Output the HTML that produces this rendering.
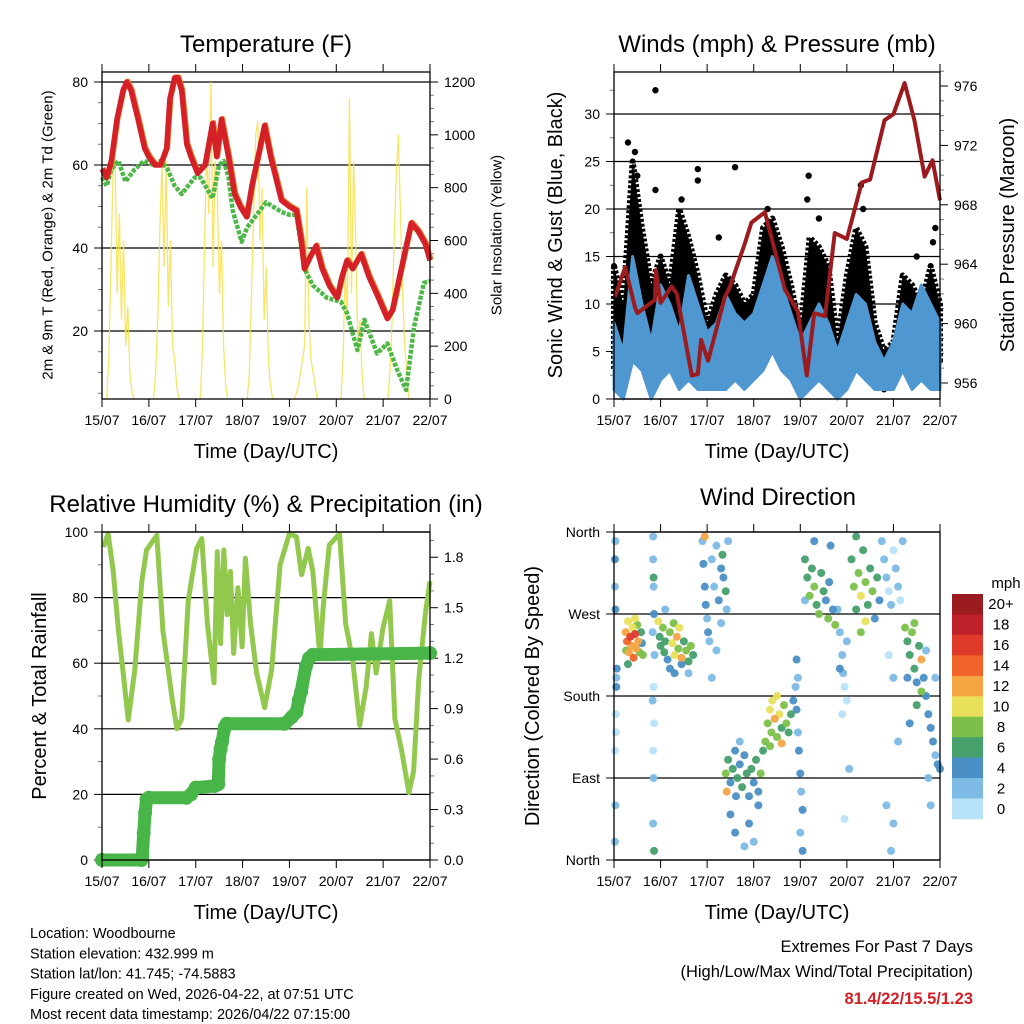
<!DOCTYPE html>
<html><head><meta charset="utf-8"><style>
html,body{margin:0;padding:0;background:#fff}
svg{display:block;font-family:"Liberation Sans",Arial,sans-serif}
</style></head><body>
<svg id="c" width="1024" height="1024" viewBox="0 0 1024 1024" xmlns="http://www.w3.org/2000/svg"></svg>
<script>
// ---------- DATA ----------
const dayLabels=["15/07","16/07","17/07","18/07","19/07","20/07","21/07","22/07"];
// Temperature panel
const tDay=[0,0.1,0.2,0.32,0.45,0.53,0.62,0.77,0.91,1.0,1.13,1.25,1.38,1.45,1.55,1.62,1.7,1.81,1.9,2.04,2.2,2.36,2.45,2.55,2.7,2.83,2.95,3.09,3.2,3.35,3.47,3.6,3.83,4.0,4.15,4.25,4.32,4.45,4.57,4.7,4.85,5.02,5.12,5.23,5.35,5.53,5.7,5.9,6.09,6.2,6.35,6.6,6.75,6.9,7.0];
const tRed=[59,57,61,71,78,80,78,71,64,62,60,60,64,76,81,81,78,65,62,58,60,70,62,71,62,53,50,47.5,55,63,69.5,62,51.5,50,49,42,35,38,40.5,35,31,28,33,37,35,38.5,33,28,23,25,33,46,44,41,37];
const dDay=[0,0.1,0.2,0.35,0.5,0.7,0.9,1.1,1.25,1.4,1.55,1.7,1.98,2.1,2.36,2.5,2.6,2.7,2.79,2.98,3.1,3.3,3.5,3.83,4.0,4.15,4.32,4.5,4.8,5.1,5.23,5.45,5.6,5.87,6.09,6.3,6.49,6.66,6.87,7.0];
const dVal=[57,55,59,61,56,59,61,60,61,59,55,53,57,57,52,60,61,57,49,41.5,45,48,51,48.7,48,48,35,31,28,27,24.3,15.4,22.7,14.6,17,10.6,5.8,21,31.6,32];
const solar0=[0,150,500,850,900,400,700,300,600,200,350,100,30,0];
const solar1=[0,100,300,650,880,500,900,350,600,200,150,50,0,0];
const solar2=[0,200,600,950,700,1200,500,900,800,400,600,200,50,0];
const solar3=[0,100,400,700,1000,1050,600,800,300,500,150,50,0,0];
const solar4=[0,20,50,100,150,200,800,300,150,100,50,0,0,0];
const solar5=[0,150,500,300,1140,400,900,600,200,300,100,0,0,0];
const solar6=[0,100,300,600,850,1000,700,400,200,100,0,0,0,0];
// Winds panel (0.2-day steps)
const windLo=[1,0,4,3,0,2,3,1,2,1,1,1,1,2,1,2,3,5,3,2,0,1,2,1,0,1,3,2,1,1,1,3,1,2,1,1];
const windHi=[8,5,15,10,6,12,10,7,13,10,7,8,11,9,8,9,12,15,12,9,6,8,10,8,5,8,11,10,6,4,6,10,9,12,10,8];
const gustLo=[3,4,12,8,2,5,5,7,6,5,3,5,6,5,4,6,9,10,8,6,2,7,8,6,1,5,9,7,3,1,2,7,6,4,3,4];
const gustHi=[14,10,25,18,12,15,12,20,17,13,8,11,13,12,10,11,18,19,16,12,7,17,16,14,6,13,18,16,8,5,6,13,12,10,14,10];
const gxDay=[0.89,0.89,1.8,1.8,2.6,2.25,4.18,4.15,5.3,6.85,6.9,0.3,6.5,0.45,0.5,1.45,3.3,4.4,5.35];
const gxVal=[32.5,22,24.2,23,24.4,17,23.5,21,22.5,16.5,18,27,15,26,23.5,21,20,19,20];
const pDay=[0.02,0.24,0.45,0.5,0.88,0.9,1.0,1.24,1.35,1.67,1.8,1.87,2.02,2.38,2.48,2.81,2.95,3.24,3.67,3.95,4.14,4.3,4.53,4.74,5.0,5.32,5.5,5.81,6.0,6.24,6.45,6.67,6.84,7.0];
const pVal=[961.8,963.8,961.1,960.7,961.6,963.6,961.4,962.5,962,956.5,956.6,958.9,957.5,961.8,962.4,965.4,966.8,967.5,962.3,960.8,956.5,960.7,960.5,966.1,965.7,969.5,969.7,973.7,974.1,976.2,973.7,969.9,971,968.3];
// RH & precip panel
const rhDay=[0.03,0.13,0.24,0.35,0.46,0.56,0.7,0.85,0.95,1.17,1.3,1.5,1.6,1.7,1.84,2.02,2.13,2.25,2.39,2.46,2.53,2.6,2.67,2.74,2.81,2.9,2.99,3.06,3.17,3.3,3.47,3.62,3.8,4.0,4.15,4.26,4.4,4.5,4.65,4.72,4.85,5.07,5.2,5.35,5.5,5.64,5.75,5.85,6.0,6.14,6.25,6.4,6.55,6.65,6.76,6.9,7.0];
const rhVal=[95.4,99.5,88,70,56,42.7,58,85,94.5,99,70,48.8,40,43,79,95,98,72,54,94,66,94.5,74.8,88,63,83,65,92,72,57,46.5,58,90,99.5,98.5,87,95,88,62,77,96,99.5,72,61,41,53,69,57,71,79,43,33,20.5,27,55,75,85];
const prDay=[0,0.84,0.86,0.89,0.92,0.95,1.0,1.8,1.9,2.0,2.4,2.48,2.5,2.53,2.56,2.62,2.66,3.9,4.05,4.15,4.2,4.25,4.35,4.42,4.5,7.0];
const prVal=[0,0,0.02,0.16,0.28,0.36,0.37,0.37,0.39,0.43,0.44,0.45,0.6,0.66,0.7,0.79,0.81,0.81,0.85,0.88,0.95,1.0,1.15,1.2,1.22,1.23];
// Wind direction panel
const dirDay=[0.25,0.28,0.3,0.32,0.35,0.38,0.4,0.42,0.45,0.48,0.5,0.52,0.55,0.58,0.6,0.62,0.3,0.45,0.26,
0.02,0.02,0.03,0.05,0.04,0.02,0.03,0.02,0.05,0.06,0.04,0.03,
0.84,0.84,0.85,0.83,0.85,0.86,0.84,0.85,0.84,0.86,0.85,0.86,0.87,0.83,
0.95,0.98,1.0,1.05,1.08,1.1,1.15,1.2,1.25,1.28,1.3,1.35,1.38,1.4,1.45,1.5,1.55,1.6,1.65,1.7,1.2,1.3,1.45,1.6,1.1,
1.9,1.92,1.95,1.97,2.0,2.02,2.05,2.1,2.15,2.2,2.25,2.3,2.33,2.35,2.4,2.42,2.45,1.95,2.3,2.2,2.1,
2.4,2.42,2.45,2.5,2.55,2.6,2.62,2.65,2.7,2.75,2.8,2.85,2.9,2.95,3.0,3.05,3.1,3.15,3.2,2.5,2.6,2.9,3.0,2.8,2.7,3.1,
3.25,3.3,3.35,3.38,3.4,3.45,3.5,3.55,3.6,3.65,3.7,3.75,3.8,3.85,3.35,3.5,3.6,
3.9,3.92,3.95,3.97,4.0,4.02,4.05,3.95,4.0,4.05,3.92,
4.1,4.15,4.2,4.25,4.3,4.35,4.4,4.45,4.5,4.55,4.6,4.62,4.65,4.7,4.75,4.1,4.3,
4.8,4.85,4.9,4.92,4.95,5.0,4.85,4.9,5.0,5.05,4.95,
5.1,5.15,5.2,5.25,5.3,5.35,5.4,5.45,5.5,5.55,5.6,5.65,5.7,5.4,5.2,5.3,
5.75,5.8,5.85,5.9,5.95,6.0,6.05,6.1,6.15,6.2,5.9,6.0,6.1,5.85,6.0,5.95,
6.25,6.3,6.35,6.4,6.45,6.5,6.55,6.6,6.3,6.45,6.6,6.5,6.35,
6.65,6.7,6.75,6.8,6.85,6.9,6.95,7.0,6.75,6.8,6.9,6.7];
const dirDeg=[250,240,262,228,245,235,255,222,248,232,258,240,228,250,238,225,215,265,230,
330,300,275,200,160,120,60,20,190,210,140,350,
355,330,300,250,190,150,120,90,40,10,310,270,225,175,
262,245,235,255,228,240,220,250,238,260,225,245,232,255,222,240,230,218,235,225,210,205,215,205,275,
350,325,300,280,265,250,240,330,300,345,285,320,335,310,295,275,350,355,260,230,200,
95,75,110,85,100,120,70,90,105,80,115,95,70,100,85,110,75,95,120,50,30,40,20,15,130,60,
130,150,165,140,175,155,135,160,145,170,150,140,160,175,125,180,128,
190,165,140,120,95,75,55,200,30,10,220,
330,310,290,320,300,280,270,315,295,285,265,305,345,275,258,285,350,
275,250,225,205,190,175,210,160,240,100,45,
330,300,275,315,290,340,305,280,320,295,265,310,285,262,355,250,
350,330,310,295,280,340,320,300,285,350,225,200,130,60,40,10,
255,240,225,250,210,195,235,185,200,260,220,170,150,
200,180,160,145,130,115,105,100,90,60,200,230];
const dirSpd=[12,14,11,13,16,12,10,14,17,12,9,13,8,7,5,8,6,11,9,
4,3,4,3,1,1,3,3,4,4,1,2,
2,3,2,3,1,1,1,2,3,6,6,4,2,3,
10,7,6,8,7,6,5,9,11,8,10,12,8,10,13,7,9,6,8,7,4,4,5,3,3,
3,4,5,4,3,4,3,2,3,2,4,5,6,4,6,3,2,12,2,3,2,
8,12,6,4,7,4,5,6,5,6,4,6,5,7,4,6,4,8,7,4,4,4,3,2,3,4,
8,9,10,8,11,12,9,10,7,8,9,6,7,4,9,11,13,
3,4,3,5,4,3,4,2,2,4,4,
6,7,8,6,9,7,8,6,7,5,8,4,5,4,8,3,4,
2,2,3,2,1,1,4,1,2,2,1,
6,8,6,9,10,7,8,6,7,9,5,6,4,10,6,8,
2,3,2,1,2,1,3,2,1,2,1,2,3,2,3,3,
8,7,6,9,7,5,6,8,4,8,12,6,4,
4,5,4,5,4,3,5,4,3,3,3,2];
const spdLabels=["20+","18","16","14","12","10","8","6","4","2","0"];
const spdColors=["#9b1b1e","#c0202a","#e03a2a","#f0632a","#f5a442","#e8e05a","#7cc04a","#45a06c","#4a8fc6","#7dbbe6","#b8e2f8"];

// ---------- HELPERS ----------
const svg=document.getElementById('c');
const NS='http://www.w3.org/2000/svg';
function mk(tag,attrs,parent){const e=document.createElementNS(NS,tag);for(const k in attrs)e.setAttribute(k,attrs[k]);(parent||svg).appendChild(e);return e;}
function txt(s,x,y,size,anchor,parent,extra){const e=mk('text',Object.assign({x:x,y:y,'font-size':size,'text-anchor':anchor||'middle',fill:'#000'},extra||{}),parent);e.textContent=s;return e;}

const P1={x0:102,x1:430,y0:72,y1:399};
const P2={x0:614,x1:940,y0:72,y1:399};
const P3={x0:102,x1:430,y0:532,y1:860};
const P4={x0:614,x1:940,y0:532,y1:860};
function dx(P,d){return P.x0+d*(P.x1-P.x0)/7;}

function frameAndX(P,name){
  const g=mk('g',{});
  
  
  for(let i=0;i<dayLabels.length;i++){
    const x=dx(P,i);
    const t1=mk('line',{x1:x,x2:x,y1:P.y0-8,y2:P.y0,stroke:'#000','stroke-width':1},g);
    
    
    const t2=mk('line',{x1:x,x2:x,y1:P.y1,y2:P.y1+8,stroke:'#000','stroke-width':1},g);
    
    
    const l=txt(dayLabels[i],x,P.y1+26,14,'middle',g);
    
    
  }
  const xt=txt('Time (Day/UTC)',(P.x0+P.x1)/2,P.y1+59,20,'middle',g);
  
  
  return g;
}
function frameRect(P){
  const r=mk('rect',{x:P.x0,y:P.y0,width:P.x1-P.x0,height:P.y1-P.y0,fill:'none',stroke:'#000','stroke-width':1.3});
  
  
}
function yAxis(P,side,vals,labels,toY,minorVals,grid){
  const g=mk('g',{});
  
  
  const xe=side==='left'?P.x0:P.x1, dir=side==='left'?-1:1;
  minorVals.forEach(v=>{const y=toY(v);const m=mk('line',{x1:xe,x2:xe+dir*4,y1:y,y2:y,stroke:'#777','stroke-width':1},g);
    
    });
  vals.forEach((v,i)=>{const y=toY(v);
    const t=mk('line',{x1:xe,x2:xe+dir*8,y1:y,y2:y,stroke:'#000','stroke-width':1},g);
    
    
    if(grid){const gl=mk('line',{x1:P.x0,x2:P.x1,y1:y,y2:y,stroke:'#000','stroke-width':1.2},g);
      
      }
    const l=txt(labels[i],xe+dir*14,y+5,14,side==='left'?'end':'start',g);
    
    
  });
}
function vtitle(s,x,yc,size,name){
  const t=txt(s,x,yc,size,'middle',svg,{transform:'rotate(-90 '+x+' '+yc+')','dominant-baseline':'central'});
  
  
}
function ptitle(s,x,y,name){const t=txt(s,x,y,24,'middle');
  
  }
function pts(xs,ys){return xs.map((d,i)=>xs[i]+','+ys[i]).join(' ');}

// ---------- PANEL 1: Temperature ----------
const yT=v=>82+(80-v)*(331-82)/60;
const ySol=v=>399-v*(399-82)/1200;
ptitle('Temperature (F)',266,52,'temperature-title');
yAxis(P1,'left',[20,40,60,80],['20','40','60','80'],yT,[5,10,15,25,30,35,45,50,55,65,70,75],true);
yAxis(P1,'right',[0,200,400,600,800,1000,1200],['0','200','400','600','800','1000','1200'],ySol,[50,100,150,250,300,350,450,500,550,650,700,750,850,900,950,1050,1100,1150],false);
{
  const solarAll=[solar0,solar1,solar2,solar3,solar4,solar5,solar6];
  const g=mk('g',{});
  
  
  solarAll.forEach((arr,di)=>{
    const xs=arr.map((v,i)=>dx(P1,di+0.1+i*0.045)), ys=arr.map(v=>ySol(v));
    const pl=mk('polyline',{points:pts(xs,ys),fill:'none',stroke:'#f9df4a','stroke-width':1.3,'stroke-opacity':0.85},g);
    
    
  });
  const dew=mk('polyline',{points:pts(dDay.map(d=>dx(P1,d)),dVal.map(yT)),fill:'none',stroke:'#4db848','stroke-width':4.5,'stroke-dasharray':'4 1.5','stroke-linejoin':'round'});
  
  
  const or=mk('polyline',{points:pts(tDay.map(d=>dx(P1,d)+1),tRed.map(v=>yT(v)-1)),fill:'none',stroke:'#f07a2a','stroke-width':5,'stroke-linejoin':'round'});
  
  
  const red=mk('polyline',{points:pts(tDay.map(d=>dx(P1,d)),tRed.map(yT)),fill:'none',stroke:'#d42027','stroke-width':5.5,'stroke-linejoin':'round'});
  
  
}
frameRect(P1);
frameAndX(P1,'temperature');
vtitle('2m & 9m T (Red, Orange) & 2m Td (Green)',48,235,15,'temperature-y-title');
vtitle('Solar Insolation (Yellow)',497,235,15,'solar-y-title');

// ---------- PANEL 2: Winds ----------
const yW=v=>399-v*9.5;
const yP=p=>383-(p-956)*14.85;
ptitle('Winds (mph) & Pressure (mb)',777,52,'winds-title');
yAxis(P2,'left',[0,5,10,15,20,25,30],['0','5','10','15','20','25','30'],yW,[2.5,7.5,12.5,17.5,22.5,27.5,32.5],true);
yAxis(P2,'right',[956,960,964,968,972,976],['956','960','964','968','972','976'],yP,[957,958,959,961,962,963,965,966,967,969,970,971,973,974,975,977],false);
{
  const g=mk('g',{});
  
  
  const gx=gustLo.map((v,i)=>dx(P2,i*0.2));
  const gtop=gx.map((x,i)=>x+','+yW(gustHi[i])).join(' ');
  const gbot=gx.map((x,i)=>x+','+yW(gustLo[i])).reverse().join(' ');
  const gb=mk('polygon',{points:gtop+' '+gbot,fill:'#000',stroke:'#000','stroke-width':6,'stroke-linejoin':'round','stroke-dasharray':'3 2'},g);
  
  
  gxDay.forEach((d,i)=>{const c=mk('circle',{cx:dx(P2,d),cy:yW(gxVal[i]),r:3.2,fill:'#000'},g);
    
    });
  const xs=windLo.map((v,i)=>dx(P2,i*0.2));
  const top=xs.map((x,i)=>x+','+yW(windHi[i])).join(' ');
  const bot=xs.map((x,i)=>x+','+yW(windLo[i])).reverse().join(' ');
  const band=mk('polygon',{points:top+' '+bot,fill:'#4f97d1',stroke:'#4f97d1','stroke-width':3,'stroke-linejoin':'round'});
  
  
  const pr=mk('polyline',{points:pts(pDay.map(d=>dx(P2,d)),pVal.map(yP)),fill:'none',stroke:'#9b1b1e','stroke-width':4,'stroke-linejoin':'round'});
  
  
}
frameRect(P2);
frameAndX(P2,'winds');
vtitle('Sonic Wind & Gust (Blue, Black)',556,235,20,'wind-y-title');
vtitle('Station Pressure (Maroon)',1008,235,20,'pressure-y-title');

// ---------- PANEL 3: RH & Precip ----------
const yRH=v=>860-v*3.28;
const yPr=v=>860-v*168.2;
ptitle('Relative Humidity (%) & Precipitation (in)',266,512,'humidity-title');
yAxis(P3,'left',[0,20,40,60,80,100],['0','20','40','60','80','100'],yRH,[10,30,50,70,90],true);
yAxis(P3,'right',[0,0.3,0.6,0.9,1.2,1.5,1.8],['0.0','0.3','0.6','0.9','1.2','1.5','1.8'],yPr,[0.1,0.2,0.4,0.5,0.7,0.8,1.0,1.1,1.3,1.4,1.6,1.7,1.9],false);
{
  const rh=mk('polyline',{points:pts(rhDay.map(d=>dx(P3,d)),rhVal.map(yRH)),fill:'none',stroke:'#92c84e','stroke-width':5,'stroke-linejoin':'round'});
  
  
  const pl=mk('polyline',{points:pts(prDay.map(d=>dx(P3,d)),prVal.map(yPr)),fill:'none',stroke:'#48b548','stroke-width':13,'stroke-linejoin':'round','stroke-linecap':'round'});
  
  
  prDay.forEach((d,i)=>{const c=mk('circle',{cx:dx(P3,d),cy:yPr(prVal[i]),r:7,fill:'#48b548'});
    
    });
}
frameRect(P3);
frameAndX(P3,'humidity');
vtitle('Percent & Total Rainfall',40,696,20,'humidity-y-title');

// ---------- PANEL 4: Wind Direction ----------
const yD=v=>860-v*(328/360);
ptitle('Wind Direction',778,505,'wind-direction-title');
yAxis(P4,'left',[0,90,180,270,360],['North','East','South','West','North'],yD,[],true);
{
  const g=mk('g',{});
  
  
  const order=dirSpd.map((s,i)=>i).sort((a,b)=>dirSpd[a]-dirSpd[b]);
  order.forEach(i=>{const bin=Math.min(Math.floor(dirSpd[i]/2),10);
    const c=mk('circle',{cx:dx(P4,dirDay[i]),cy:yD(dirDeg[i]),r:4,fill:spdColors[10-bin],'fill-opacity':0.95},g);
    
    });
}
frameRect(P4);
frameAndX(P4,'wind-direction');
vtitle('Direction (Colored By Speed)',533,696,20,'direction-y-title');
{
  const g=mk('g',{});
  
  
  const h=(819-594)/11;
  spdLabels.forEach((s,i)=>{
    const r=mk('rect',{x:952,y:594+i*h,width:31,height:h+0.3,fill:spdColors[i]},g);
    
    
    const t=txt(s,1001,594+i*h+h/2+5,15,'middle',g);
    
    
  });
  const u=txt('mph',1006,588,15,'middle',g);
  
  
}

// ---------- FOOTER TEXT ----------
const info=['Location: Woodbourne','Station elevation: 432.999 m','Station lat/lon: 41.745; -74.5883','Figure created on Wed, 2026-04-22, at 07:51 UTC','Most recent data timestamp: 2026/04/22 07:15:00'];
info.forEach((s,i)=>{const t=txt(s,30,938+i*20.3,14.5,'start');
  
  });
{
  const a=txt('Extremes For Past 7 Days',973,952,16.5,'end');
  
  
  const b=txt('(High/Low/Max Wind/Total Precipitation)',973,977,16.5,'end');
  
  
  const c=txt('81.4/22/15.5/1.23',973,1004,16.5,'end',svg,{fill:'#d42027','font-weight':'bold'});
  
  
}
</script>
</body></html>
